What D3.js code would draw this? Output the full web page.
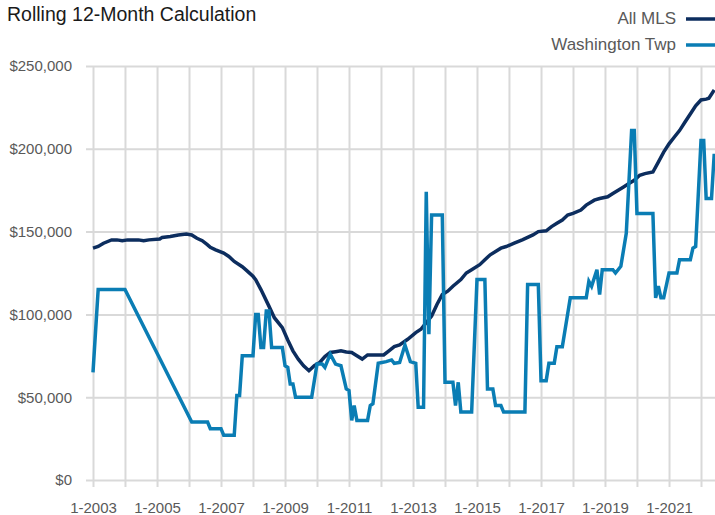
<!DOCTYPE html>
<html><head><meta charset="utf-8">
<script src="https://cdn.jsdelivr.net/npm/d3@7"></script>
<style>
html,body{margin:0;padding:0;background:#fff;}
svg{display:block;font-family:"Liberation Sans",Arial,Helvetica,sans-serif;}
</style></head><body>
<svg id="chart" width="715" height="515"></svg>
<script>
const chartTitle = "Rolling 12-Month Calculation";
const seriesNames = ["All MLS", "Washington Twp"];
const seriesColors = ["#0c2d5e", "#0a7db4"];

const mlsMonths = ["2003-01","2003-03","2003-05","2003-08","2003-10","2003-12","2004-02","2004-06","2004-08","2004-10",
"2005-02","2005-03","2005-06","2005-09","2005-12","2006-02","2006-04","2006-06","2006-08","2006-09","2006-11",
"2007-02","2007-04","2007-06","2007-09","2007-11","2008-01","2008-02","2008-04","2008-07","2008-09","2008-12",
"2009-02","2009-04","2009-06","2009-08","2009-10","2009-12","2010-02","2010-04","2010-06","2010-08","2010-10","2010-12",
"2011-02","2011-04","2011-06","2011-08","2011-11","2012-02","2012-04","2012-06","2012-08","2012-11",
"2013-02","2013-04","2013-06","2013-08","2013-10","2013-12","2014-02","2014-04","2014-07","2014-09","2014-11",
"2015-02","2015-04","2015-06","2015-08","2015-10","2015-12","2016-03","2016-06","2016-10","2016-12",
"2017-03","2017-05","2017-07","2017-09","2017-11","2018-01","2018-04","2018-06","2018-09","2018-11",
"2019-02","2019-04","2019-06","2019-08","2019-10","2019-12","2020-02","2020-04","2020-07","2020-09","2020-11",
"2021-01","2021-03","2021-05","2021-07","2021-09","2021-11","2022-01","2022-03","2022-04","2022-06"];
const mlsValues = [140000,141000,143000,145000,145000,144500,145000,145000,144500,145000,
145500,146500,147000,148000,148500,148000,146000,144500,142000,140500,139000,
137000,135000,132000,128800,126000,123000,121000,115000,105000,98000,92000,
84500,78000,73000,69000,66000,69000,71000,74500,77000,77500,78000,77300,
77000,75000,73000,75500,75500,75500,78000,80500,81500,85000,
89000,91000,95000,99000,106000,112000,114000,117000,121000,125000,127000,
130000,133000,136000,138000,140000,141000,143000,145000,148000,150000,
150500,153000,155000,157000,160000,161000,163000,166000,169000,170000,
171000,173000,175000,177000,179000,181000,184000,185000,186000,192000,198000,
203000,207000,211000,216000,221000,226000,229500,230000,230500,235500];

const wtMonths = ["2003-01","2003-03","2004-01","2006-02","2006-08","2006-09","2007-01","2007-02","2007-06","2007-07",
"2007-08","2007-09","2008-01","2008-02","2008-03","2008-04","2008-05","2008-06","2008-07","2008-08","2008-12",
"2009-01","2009-02","2009-03","2009-04","2009-05","2009-11","2010-01","2010-03","2010-04","2010-06","2010-08",
"2010-10","2010-12","2011-01","2011-02","2011-03","2011-04","2011-08","2011-09","2011-10","2011-12",
"2012-03","2012-05","2012-06","2012-08","2012-10","2012-12","2013-02","2013-03","2013-05","2013-06","2013-07",
"2013-08","2013-12","2014-01","2014-04","2014-05","2014-06","2014-07","2014-11","2015-01","2015-04","2015-05",
"2015-07","2015-08","2015-10","2015-11","2016-07","2016-08","2016-12","2017-01","2017-03","2017-04","2017-06",
"2017-07","2017-09","2017-12","2018-06","2018-07","2018-08","2018-10","2018-11","2018-12","2019-04","2019-05",
"2019-07","2019-09","2019-11","2019-12","2020-01","2020-07","2020-08","2020-09","2020-10","2020-11","2021-01",
"2021-04","2021-05","2021-09","2021-10","2021-11","2022-01","2022-02","2022-03","2022-05","2022-06"];
const wtValues = [65000,115000,115000,35000,35000,31000,31000,27000,27000,51000,
51000,75000,75000,100000,100000,80000,80000,102000,102000,80000,80000,
69000,68000,58000,58000,50000,50000,70000,70000,68000,76000,70000,
69000,55000,54000,36000,45000,36000,36000,45000,46000,70500,
71500,72500,70500,71000,81500,71500,70500,44000,44000,174000,88000,
160000,160000,59000,59000,45000,59000,41000,41000,121000,121000,55000,
55000,45000,45000,41000,41000,118000,118000,60000,60000,70500,70500,
80500,80500,110000,110000,120000,117000,127000,112000,127000,127000,125000,
129000,149000,211000,211000,161000,161000,110000,117000,110000,110000,125000,
125000,133000,133000,140000,141000,205000,205000,170000,170000,197000];

const yTickValues = [0, 50000, 100000, 150000, 200000, 250000];
const xGridYears = [2003,2004,2005,2006,2007,2008,2009,2010,2011,2012,2013,2014,2015,2016,2017,2018,2019,2020,2021,2022];
const xLabelYears = [2003,2005,2007,2009,2011,2013,2015,2017,2019,2021];

const svg = d3.select("#chart");
const parse = d3.timeParse("%Y-%m");
const x = d3.scaleTime().domain([new Date(2003,0,1), new Date(2022,0,1)]).range([93,701]);
const y = d3.scaleLinear().domain([0,250000]).range([480,66]);
const gridColor = "#d9d9d9";

// horizontal grid + y labels
const yAxis = d3.axisLeft(y).tickValues(yTickValues).tickSize(-(715-86)).tickPadding(14)
  .tickFormat(d => "$" + d3.format(",")(d));
const gy = svg.append("g").attr("transform","translate(86,0)").call(yAxis);
gy.select(".domain").remove();
gy.selectAll(".tick line").attr("stroke", gridColor).attr("stroke-width", 2);
gy.selectAll(".tick text").attr("fill","#595959").style("font-size","15px");

// vertical grid + x labels
const xAxis = d3.axisBottom(x).tickValues(xGridYears.map(yr => new Date(yr,0,1)))
  .tickSize(-(487-66)).tickPadding(15)
  .tickFormat(d => xLabelYears.includes(d.getFullYear()) ? "1-" + d.getFullYear() : "");
const gx = svg.append("g").attr("transform","translate(0,487)").call(xAxis);
gx.select(".domain").remove();
gx.selectAll(".tick line").attr("stroke", gridColor).attr("stroke-width", 2);
gx.selectAll(".tick text").attr("fill","#595959").style("font-size","15px");

const line = d3.line().x(d => x(d.date)).y(d => y(d.value));
const mlsData = mlsMonths.map((m,i) => ({date: parse(m), value: mlsValues[i]}));
const wtData = wtMonths.map((m,i) => ({date: parse(m), value: wtValues[i]}));

svg.append("path").datum(mlsData).attr("d", line).attr("fill","none")
  .attr("stroke", seriesColors[0]).attr("stroke-width", 3.5);
svg.append("path").datum(wtData).attr("d", line).attr("fill","none")
  .attr("stroke", seriesColors[1]).attr("stroke-width", 3.5);

// title
svg.append("text").attr("x",7).attr("y",21).text(chartTitle)
  .attr("fill","#1a1a1a").style("font-size","19.5px");

// legend
const legendY = [24, 50];
seriesNames.forEach((name, i) => {
  svg.append("text").attr("x",676).attr("y",legendY[i]).attr("text-anchor","end")
    .attr("fill","#595959").style("font-size","17px").text(name);
  svg.append("line").attr("x1",686).attr("x2",715).attr("y1",legendY[i]-5).attr("y2",legendY[i]-5)
    .attr("stroke", seriesColors[i]).attr("stroke-width",3.5);
});
</script>
</body></html>
